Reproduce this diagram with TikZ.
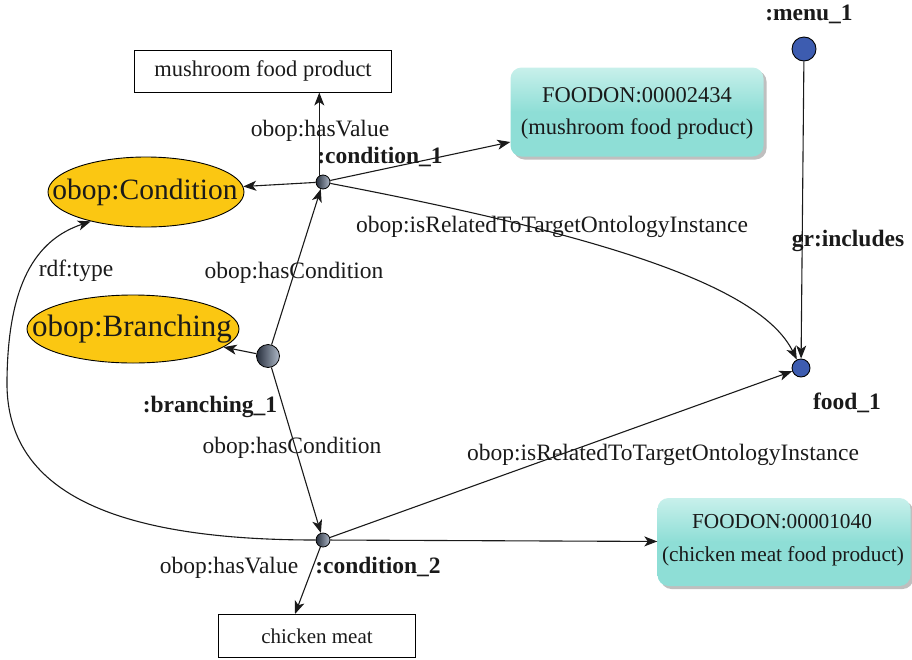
\documentclass[tikz,border=0pt]{standalone}
\usepackage{fontspec}
\setmainfont{Liberation Serif}
\usetikzlibrary{arrows.meta,shapes.geometric,shadows}
\definecolor{classfill}{RGB}{251,199,18}
\definecolor{ballblue}{RGB}{61,92,176}
\definecolor{balldark}{RGB}{38,46,60}
\definecolor{balllight}{RGB}{175,185,200}
\definecolor{termtop}{RGB}{200,240,235}
\definecolor{termbot}{RGB}{142,222,214}
\definecolor{ink}{RGB}{26,26,26}
\begin{document}
\begin{tikzpicture}[x=1pt,y=-1pt,
  font=\fontsize{23.5}{27}\selectfont, color=ink,
  arr/.style={line width=1.1pt,-{Stealth[length=13pt,width=10pt,inset=3.5pt]}},
  classnode/.style={ellipse, draw=black, line width=0.9pt, fill=classfill, inner sep=0pt},
  classname/.style={inner sep=0pt, font=\fontsize{29.5}{33}\selectfont},
  inst/.style={circle, draw=black, line width=0.8pt, inner sep=0pt, left color=balldark, right color=balllight},
  blueball/.style={circle, draw=black, line width=0.9pt, inner sep=0pt, fill=ballblue},
  litbox/.style={rectangle, draw=black, line width=1pt, inner sep=0pt, font=\fontsize{22.5}{26}\selectfont},
  termbox/.style={rectangle, rounded corners=11pt, inner sep=0pt, top color=termtop, bottom color=termbot,
    middle color=termbot, drop shadow={shadow xshift=3pt, shadow yshift=-3pt, fill=black!25, opacity=1}},
  termtext/.style={inner sep=0pt, font=\fontsize{22.5}{26}\selectfont},
  lbl/.style={inner sep=0pt},
  blbl/.style={inner sep=0pt, font=\fontsize{23.5}{27}\selectfont\bfseries}]
\useasboundingbox (0,0) rectangle (912,659);

% classes
\node[classnode, minimum width=196pt, minimum height=70pt] (cond) at (146,192) {};
\node[classname] at (145,192) {obop:Condition};
\node[classnode, minimum width=212pt, minimum height=68pt] (branch) at (133,329) {};
\node[classname, font=\fontsize{31}{35}\selectfont] at (132,329) {obop:Branching};

% literal values
\node[litbox, minimum width=257pt, minimum height=42pt] (mush) at (263,71) {mushroom food product};
\node[litbox, minimum width=197pt, minimum height=43pt, font=\fontsize{21}{25}\selectfont] (chick) at (317,636) {chicken meat};

% FoodOn terms
\node[termbox, minimum width=253pt, minimum height=89pt] (fo1) at (637,112) {};
\node[termtext] at (637,95) {FOODON:00002434};
\node[termtext] at (637,129) {(mushroom food product)};
\node[termbox, minimum width=253pt, minimum height=88pt] (fo2) at (784,542) {};
\node[termtext, font=\fontsize{21.3}{25}\selectfont] at (782,522) {FOODON:00001040};
\node[termtext, font=\fontsize{21.3}{25}\selectfont] at (783,556) {(chicken meat food product)};

% instances
\node[inst, minimum size=14pt] (c1) at (323,182) {};
\node[inst, minimum size=23pt] (b1) at (268,356) {};
\node[inst, minimum size=14pt] (c2) at (323,540) {};
\node[blueball, minimum size=24pt] (menu) at (804,49) {};
\node[blueball, minimum size=18pt] (food) at (801,368) {};

% instance names
\node[blbl] at (809,14) {:menu\_1};
\node[blbl] at (380,157) {:condition\_1};
\node[blbl] at (210,407) {:branching\_1};
\node[blbl] at (378,567) {:condition\_2};
\node[blbl] at (847,403) {food\_1};

% connectors
\draw[arr] (c1.120) -- (c1.120 |- mush.south);
\draw[arr] (c1) -- (cond);
\draw[arr] (c1) -- (fo1.west |- 0,142);
\draw[arr] (c1) .. controls (600,235) and (760,285) .. (food);
\draw[arr] (b1) -- (c1);
\draw[arr] (b1) -- (branch);
\draw[arr] (b1) -- (c2);
\draw[arr] (c2) .. controls (100,540) and (5,485) .. (7,380)
  .. controls (8,285) and (35,240) .. (cond.208);
\draw[arr] (c2) -- (food);
\draw[arr] (c2) -- (fo2);
\draw[arr] (c2) -- (chick.north -| 295,0);
\draw[arr] (menu) -- (food);

% property labels
\node[lbl] at (320,131) {obop:hasValue};
\node[lbl] at (552,227) {obop:isRelatedToTargetOntologyInstance};
\node[blbl] at (848,241) {gr:includes};
\node[lbl] at (76,271) {rdf:type};
\node[lbl] at (294,273) {obop:hasCondition};
\node[lbl] at (292,448) {obop:hasCondition};
\node[lbl] at (663,455) {obop:isRelatedToTargetOntologyInstance};
\node[lbl] at (229,568) {obop:hasValue};
\end{tikzpicture}
\end{document}
